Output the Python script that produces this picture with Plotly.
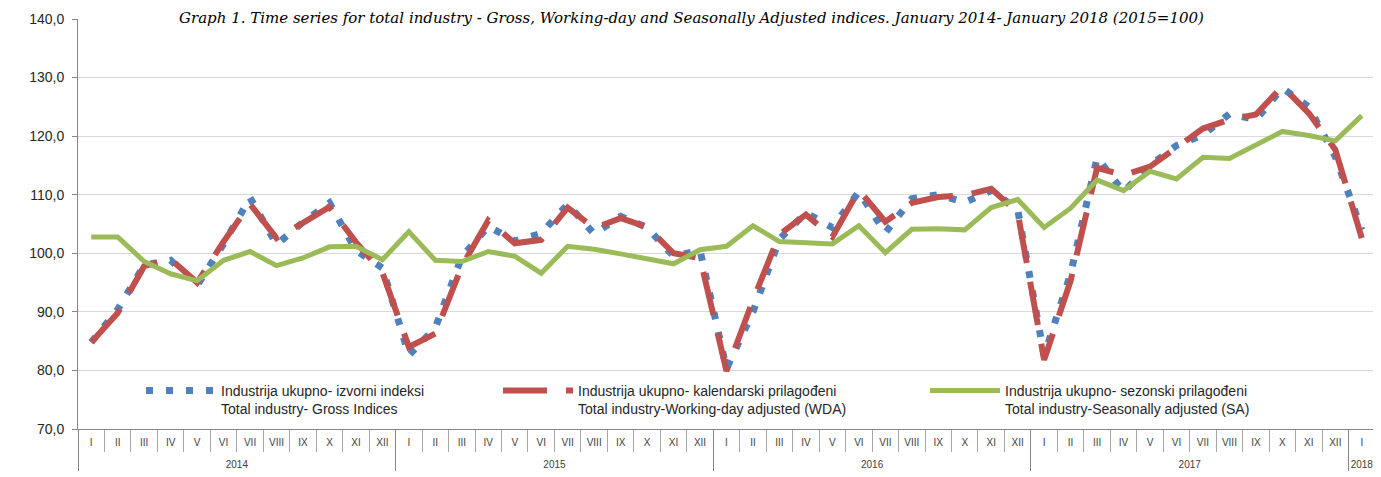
import plotly.graph_objects as go

months = ["I", "II", "III", "IV", "V", "VI", "VII", "VIII", "IX", "X", "XI", "XII"]
years = ["2014", "2015", "2016", "2017"]
year_labels = [y for y in years for _ in months] + ["2018"]
month_labels = months * 4 + ["I"]

gross = [84.8, 90.4, 98.0, 98.8, 94.5, 101.6, 109.5, 101.5, 105.3, 108.6, 100.5, 97.5,
         82.6, 87.3, 99.4, 104.6, 102.1, 103.4, 108.4, 103.3, 106.3, 104.4, 99.5, 100.5,
         80.3, 90.0, 102.4, 106.9, 104.4, 110.5, 103.5, 109.3, 110.0, 108.7, 110.7, 107.5,
         82.5, 96.5, 116.3, 110.5, 115.0, 118.4, 120.2, 123.8, 122.8, 128.2, 125.0, 116.5,
         104.0]
wda = [84.8, 89.8, 97.8, 99.0, 95.0, 102.0, 108.4, 102.6, 105.2, 107.9, 101.9, 96.7,
       84.0, 86.3, 97.8, 105.6, 101.7, 102.3, 107.8, 104.3, 106.0, 104.5, 100.0, 99.2,
       79.9, 92.0, 103.2, 106.6, 102.8, 110.8, 105.4, 108.6, 109.6, 109.9, 111.0, 107.0,
       81.8, 95.3, 114.6, 113.3, 114.8, 118.1, 121.3, 122.8, 123.7, 128.5, 123.9, 117.7,
       102.6]
sa = [102.8, 102.8, 98.6, 96.5, 95.3, 98.8, 100.3, 97.9, 99.2, 101.1, 101.2, 98.9,
      103.7, 98.8, 98.6, 100.3, 99.5, 96.6, 101.2, 100.7, 99.9, 99.0, 98.2, 100.6,
      101.2, 104.7, 102.0, 101.8, 101.6, 104.7, 100.1, 104.1, 104.2, 104.0, 107.8, 109.2,
      104.4, 107.7, 112.5, 110.7, 114.0, 112.7, 116.4, 116.2, 118.5, 120.8, 120.1, 119.2,
      123.5]

names = [
    "Industrija ukupno- izvorni indeksi<br>Total industry- Gross Indices",
    "Industrija ukupno- kalendarski prilagođeni<br>Total industry-Working-day adjusted (WDA)",
    "Industrija ukupno- sezonski prilagođeni<br>Total industry-Seasonally adjusted (SA)",
]
title_text = ("Graph 1. Time series for total industry - Gross, Working-day and Seasonally "
              "Adjusted indices. January 2014- January 2018 (2015=100)")

# month labels get an empty second line so the year row sits lower, as in the original
x = [year_labels, [m + "<br> " for m in month_labels]]

# page body has an 8px margin; plot area should land at x 78..1375, y 19..429
L, T, R, B = 70, 11, 14, 56
W, H = 1381, 477
pw, ph = W - L - R, H - T - B

fig = go.Figure()
fig.add_trace(go.Scatter(x=x, y=gross, mode="lines", name=names[0], legend="legend",
                         line=dict(color="#4F81BD", width=7, dash="7px,13px")))
fig.add_trace(go.Scatter(x=x, y=wda, mode="lines", name=names[1], legend="legend2",
                         line=dict(color="#C0504D", width=6, dash="44px,19px")))
fig.add_trace(go.Scatter(x=x, y=sa, mode="lines", name=names[2], legend="legend3",
                         line=dict(color="#9BBB59", width=5)))

leg_y = 0.132
leg_common = dict(orientation="v", xanchor="left", yanchor="top", valign="top",
                  bgcolor="rgba(0,0,0,0)", itemwidth=70,
                  font=dict(family="Liberation Sans", size=14, color="#262626"))
fig.update_layout(
    width=W, height=H,
    margin=dict(l=L, r=R, t=T, b=B, autoexpand=False),
    paper_bgcolor="white", plot_bgcolor="white",
    separators=",.",
    showlegend=True,
    legend=dict(x=63 / pw, y=leg_y, **leg_common),
    legend2=dict(x=420 / pw, y=leg_y, **leg_common),
    legend3=dict(x=847 / pw, y=leg_y, **leg_common),
    xaxis=dict(type="multicategory", showline=True, linecolor="#868686", linewidth=1,
               ticks="outside", ticklen=22, tickcolor="#a6a6a6", tickson="boundaries",
               showgrid=False, showdividers=True, dividercolor="#868686", dividerwidth=1,
               ticklabelstandoff=4,
               tickfont=dict(family="Liberation Sans", size=10, color="#404040"),
               range=[-0.5, 48.5]),
    yaxis=dict(range=[70, 140], dtick=10, tickformat=".1f", showline=True,
               linecolor="#868686", linewidth=1, ticks="outside", ticklen=5,
               tickcolor="#868686", gridcolor="#d9d9d9", gridwidth=1, zeroline=False,
               ticklabelstandoff=5,
               tickfont=dict(family="Liberation Sans", size=14, color="#262626")),
    annotations=[dict(text="<i>" + title_text + "</i>", xref="paper", yref="paper",
                      x=(691 - 78) / pw, y=1 - 9 / ph, xanchor="center", yanchor="bottom",
                      showarrow=False, borderpad=0,
                      font=dict(family="DejaVu Serif", size=15, color="#000000"))],
)

fig.write_html("out.html")
